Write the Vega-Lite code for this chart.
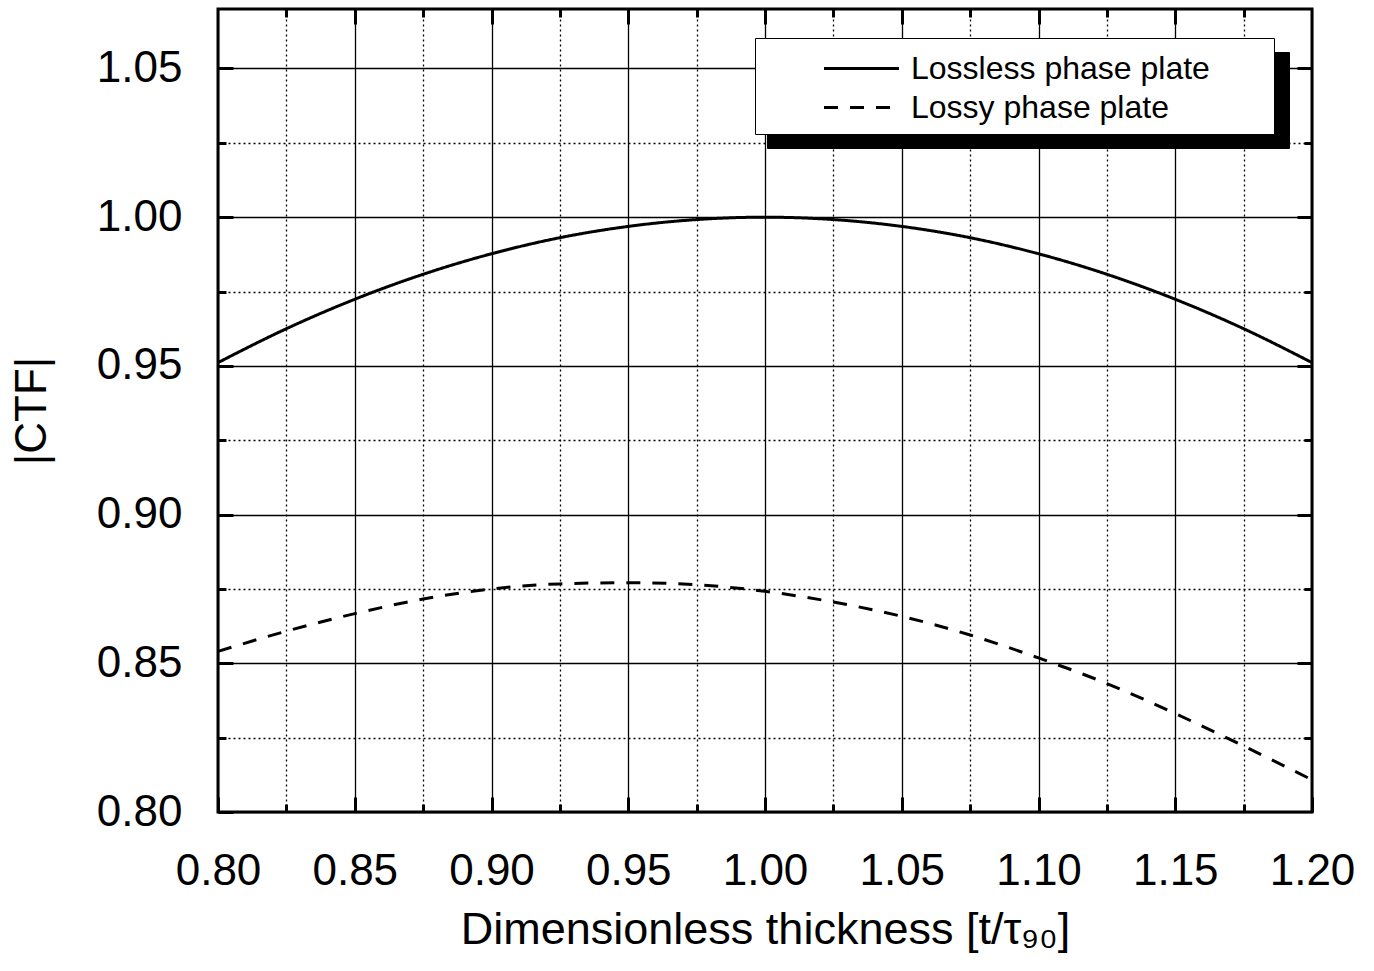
{
  "$schema": "https://vega.github.io/schema/vega-lite/v6.json",
  "autosize": {"type": "none"},
  "width": 1094,
  "height": 803,
  "padding": {"left": 218, "top": 9, "right": 62, "bottom": 159},
  "background": "white",
  "config": {
    "view": {"stroke": "black", "strokeWidth": 3},
    "font": "Liberation Sans",
    "axis": {
      "labelFont": "Liberation Sans",
      "titleFont": "Liberation Sans",
      "labelColor": "black",
      "titleColor": "black",
      "tickColor": "black",
      "tickWidth": 3,
      "gridColor": "black",
      "gridOpacity": 1,
      "domain": false,
      "titleFontWeight": "normal"
    },
    "legend": {
      "title": null,
      "orient": "none",
      "padding": 10,
      "symbolType": "M-2,0H2",
      "symbolSize": 1406,
      "symbolStrokeWidth": 3,
      "symbolFillColor": "transparent",
      "symbolOffset": 76,
      "labelOffset": 29,
      "labelFontSize": 32,
      "labelFont": "Liberation Sans",
      "labelLimit": 600,
      "rowPadding": 2
    }
  },
  "data": {
    "values": [
      {"series": "Lossless phase plate", "x": 0.800, "y": 0.9511},
      {"series": "Lossless phase plate", "x": 0.825, "y": 0.9625},
      {"series": "Lossless phase plate", "x": 0.850, "y": 0.9724},
      {"series": "Lossless phase plate", "x": 0.875, "y": 0.9808},
      {"series": "Lossless phase plate", "x": 0.900, "y": 0.9877},
      {"series": "Lossless phase plate", "x": 0.925, "y": 0.9931},
      {"series": "Lossless phase plate", "x": 0.950, "y": 0.9969},
      {"series": "Lossless phase plate", "x": 0.975, "y": 0.9992},
      {"series": "Lossless phase plate", "x": 1.000, "y": 1.0000},
      {"series": "Lossless phase plate", "x": 1.025, "y": 0.9992},
      {"series": "Lossless phase plate", "x": 1.050, "y": 0.9969},
      {"series": "Lossless phase plate", "x": 1.075, "y": 0.9931},
      {"series": "Lossless phase plate", "x": 1.100, "y": 0.9877},
      {"series": "Lossless phase plate", "x": 1.125, "y": 0.9808},
      {"series": "Lossless phase plate", "x": 1.150, "y": 0.9724},
      {"series": "Lossless phase plate", "x": 1.175, "y": 0.9625},
      {"series": "Lossless phase plate", "x": 1.200, "y": 0.9511},
      {"series": "Lossy phase plate", "x": 0.800, "y": 0.8540},
      {"series": "Lossy phase plate", "x": 0.825, "y": 0.8608},
      {"series": "Lossy phase plate", "x": 0.850, "y": 0.8667},
      {"series": "Lossy phase plate", "x": 0.875, "y": 0.8716},
      {"series": "Lossy phase plate", "x": 0.900, "y": 0.8750},
      {"series": "Lossy phase plate", "x": 0.925, "y": 0.8767},
      {"series": "Lossy phase plate", "x": 0.950, "y": 0.8771},
      {"series": "Lossy phase plate", "x": 0.975, "y": 0.8764},
      {"series": "Lossy phase plate", "x": 1.000, "y": 0.8742},
      {"series": "Lossy phase plate", "x": 1.025, "y": 0.8706},
      {"series": "Lossy phase plate", "x": 1.050, "y": 0.8658},
      {"series": "Lossy phase plate", "x": 1.075, "y": 0.8595},
      {"series": "Lossy phase plate", "x": 1.100, "y": 0.8518},
      {"series": "Lossy phase plate", "x": 1.125, "y": 0.8432},
      {"series": "Lossy phase plate", "x": 1.150, "y": 0.8331},
      {"series": "Lossy phase plate", "x": 1.175, "y": 0.8222},
      {"series": "Lossy phase plate", "x": 1.200, "y": 0.8108}
    ]
  },
  "resolve": {"axis": {"x": "independent", "y": "independent"}},
  "layer": [
    {
      "mark": {"type": "line", "strokeOpacity": 0},
      "encoding": {
        "x": {"field": "x", "type": "quantitative",
          "scale": {"domain": [0.8, 1.2], "nice": false, "zero": false},
          "axis": {"orient": "bottom", "values": [0.825, 0.875, 0.925, 0.975, 1.025, 1.075, 1.125, 1.175],
            "labels": false, "title": null, "grid": true, "gridDash": [2, 3], "gridWidth": 1.3, "tickSize": -8}},
        "y": {"field": "y", "type": "quantitative",
          "scale": {"domain": [0.8, 1.07], "nice": false, "zero": false},
          "axis": {"orient": "left", "values": [0.825, 0.875, 0.925, 0.975, 1.025],
            "labels": false, "title": null, "grid": true, "gridDash": [2, 3], "gridWidth": 1.3, "tickSize": -8}},
        "detail": {"field": "series"}
      }
    },
    {
      "mark": {"type": "line", "strokeOpacity": 0},
      "encoding": {
        "x": {"field": "x", "type": "quantitative",
          "axis": {"orient": "top", "values": [0.825, 0.875, 0.925, 0.975, 1.025, 1.075, 1.125, 1.175],
            "labels": false, "title": null, "grid": false, "tickSize": -8}},
        "y": {"field": "y", "type": "quantitative",
          "axis": {"orient": "right", "values": [0.825, 0.875, 0.925, 0.975, 1.025],
            "labels": false, "title": null, "grid": false, "tickSize": -8}},
        "detail": {"field": "series"}
      }
    },
    {
      "mark": {"type": "line", "strokeOpacity": 0},
      "encoding": {
        "x": {"field": "x", "type": "quantitative",
          "axis": {"orient": "top", "values": [0.85, 0.9, 0.95, 1.0, 1.05, 1.1, 1.15],
            "labels": false, "title": null, "grid": false, "tickSize": -15}},
        "y": {"field": "y", "type": "quantitative",
          "axis": {"orient": "right", "values": [0.85, 0.9, 0.95, 1.0, 1.05],
            "labels": false, "title": null, "grid": false, "tickSize": -15}},
        "detail": {"field": "series"}
      }
    },
    {
      "mark": {"type": "line", "stroke": "black", "strokeWidth": 3, "interpolate": "monotone"},
      "encoding": {
        "x": {"field": "x", "type": "quantitative",
          "axis": {"orient": "bottom", "values": [0.8, 0.85, 0.9, 0.95, 1.0, 1.05, 1.1, 1.15, 1.2],
            "format": ".2f", "grid": true, "gridWidth": 1.3, "tickSize": -15,
            "labelFontSize": 44, "labelPadding": 52, "labelFlush": false, "labelBaseline": "top",
            "title": "Dimensionless thickness [t/τ₉₀]", "titleFontSize": 45, "titlePadding": 14}},
        "y": {"field": "y", "type": "quantitative",
          "axis": {"orient": "left", "values": [0.8, 0.85, 0.9, 0.95, 1.0, 1.05],
            "format": ".2f", "grid": true, "gridWidth": 1.3, "tickSize": -15,
            "labelFontSize": 44, "labelPadding": 51, "labelFlush": false,
            "title": "|CTF|", "titleFontSize": 44, "titlePadding": 42}},
        "opacity": {"field": "series", "type": "nominal",
          "scale": {"domain": ["Lossless phase plate", "Lossy phase plate", " "], "range": [1, 1, 1]},
          "legend": {"values": ["Lossless phase plate", "Lossy phase plate"], "zindex": 0,
            "legendX": 549, "legendY": 43, "fillColor": "black", "strokeColor": "black",
            "labelColor": "black", "symbolOpacity": 0, "symbolStrokeColor": "black",
            "labelExpr": "'\u200b\u00a0\u00a0\u00a0\u00a0\u00a0\u00a0\u00a0\u00a0\u00a0\u00a0\u00a0\u00a0\u00a0\u00a0\u00a0\u00a0\u00a0\u00a0\u00a0\u00a0\u00a0\u00a0\u00a0\u00a0\u00a0\u00a0\u00a0\u00a0\u00a0\u00a0\u00a0\u00a0\u00a0\u00a0\u00a0\u00a0\u00a0\u00a0\u00a0\u00a0\u200b'"}},
        "strokeDash": {"field": "series", "type": "nominal",
          "scale": {"domain": ["Lossless phase plate", "Lossy phase plate"], "range": [[1, 0], [14, 12]]},
          "legend": {"legendX": 537, "legendY": 29, "zindex": 5,
            "fillColor": "white", "strokeColor": "black", "symbolStrokeColor": "black",
            "labelColor": "black",
            "labelExpr": "datum.label + '\u00a0\u00a0\u00a0\u00a0\u00a0\u00a0\u200b'"}}
      }
    }
  ]
}
